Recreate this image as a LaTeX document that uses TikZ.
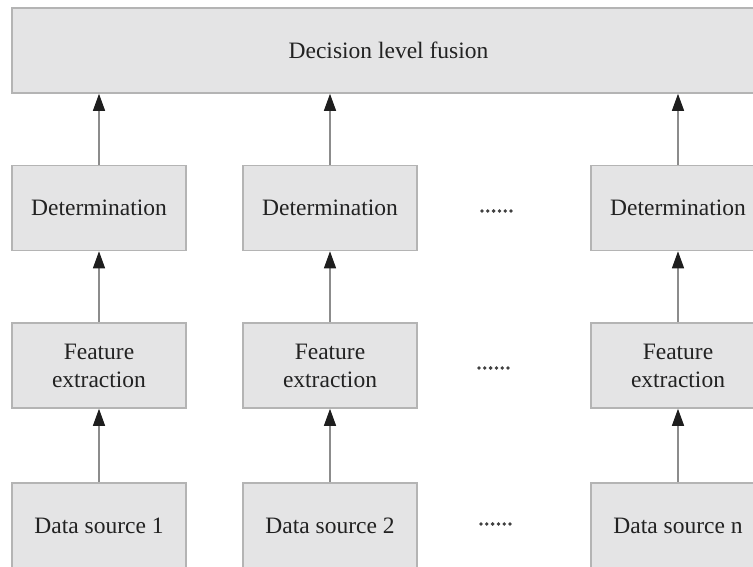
\documentclass[tikz,border=0pt]{standalone}
\usepackage{fontspec}
\setmainfont{Liberation Serif}
\usetikzlibrary{arrows.meta}
\definecolor{boxfill}{HTML}{E4E4E5}
\definecolor{boxline}{HTML}{B4B4B4}
\definecolor{textcol}{HTML}{222222}
\definecolor{linkcol}{HTML}{8C8C8C}
\definecolor{tipcol}{HTML}{1E1E1E}
\begin{document}
\begin{tikzpicture}[x=1pt,y=-1pt,
  box/.style={draw=boxline, fill=boxfill, line width=1.6pt,
    minimum width=174pt, minimum height=85pt, inner sep=0pt,
    text=textcol, font=\fontsize{23.5}{28}\selectfont, align=center},
  link/.style={draw=linkcol, line width=1.3pt,
    -{Triangle[length=17pt,width=12pt,color=tipcol]}},
  gapdot/.style={fill=tipcol!85}]
\useasboundingbox (0,0) rectangle (753,567);
\fill[white] (0,0) rectangle (753,567);
\clip (0,0) rectangle (753,567);

% fusion stage
\node[box, minimum width=753pt] (fusion) at (388.5,50.5) {Decision level fusion};

% per-source decision
\node[box] (det1) at (99,208) {Determination};
\node[box] (det2) at (330,208) {Determination};
\node[box] (detn) at (678,208) {Determination};

% feature extraction
\node[box] (fe1) at (99,365.5) {Feature\\extraction};
\node[box] (fe2) at (330,365.5) {Feature\\extraction};
\node[box] (fen) at (678,365.5) {Feature\\extraction};

% sources
\node[box] (ds1) at (99,525.5) {Data source 1};
\node[box] (ds2) at (330,525.5) {Data source 2};
\node[box] (dsn) at (678,525.5) {Data source n};

% ellipses between columns: six dots each, starting at the named point
\coordinate (g1) at (482,211);
\coordinate (g2) at (479,368);
\coordinate (g3) at (481,524);
\foreach \g in {g1,g2,g3}
  \foreach \k in {0,...,5}
    \fill[gapdot] ([xshift=5.8*\k pt]\g) circle (1.9pt);

% connectors
\foreach \c in {1,2,n} {
  \draw[link] (ds\c.north) -- (fe\c.south);
  \draw[link] (fe\c.north) -- (det\c.south);
  \draw[link] (det\c.north) -- (det\c.north |- fusion.south);
}
\end{tikzpicture}
\end{document}
